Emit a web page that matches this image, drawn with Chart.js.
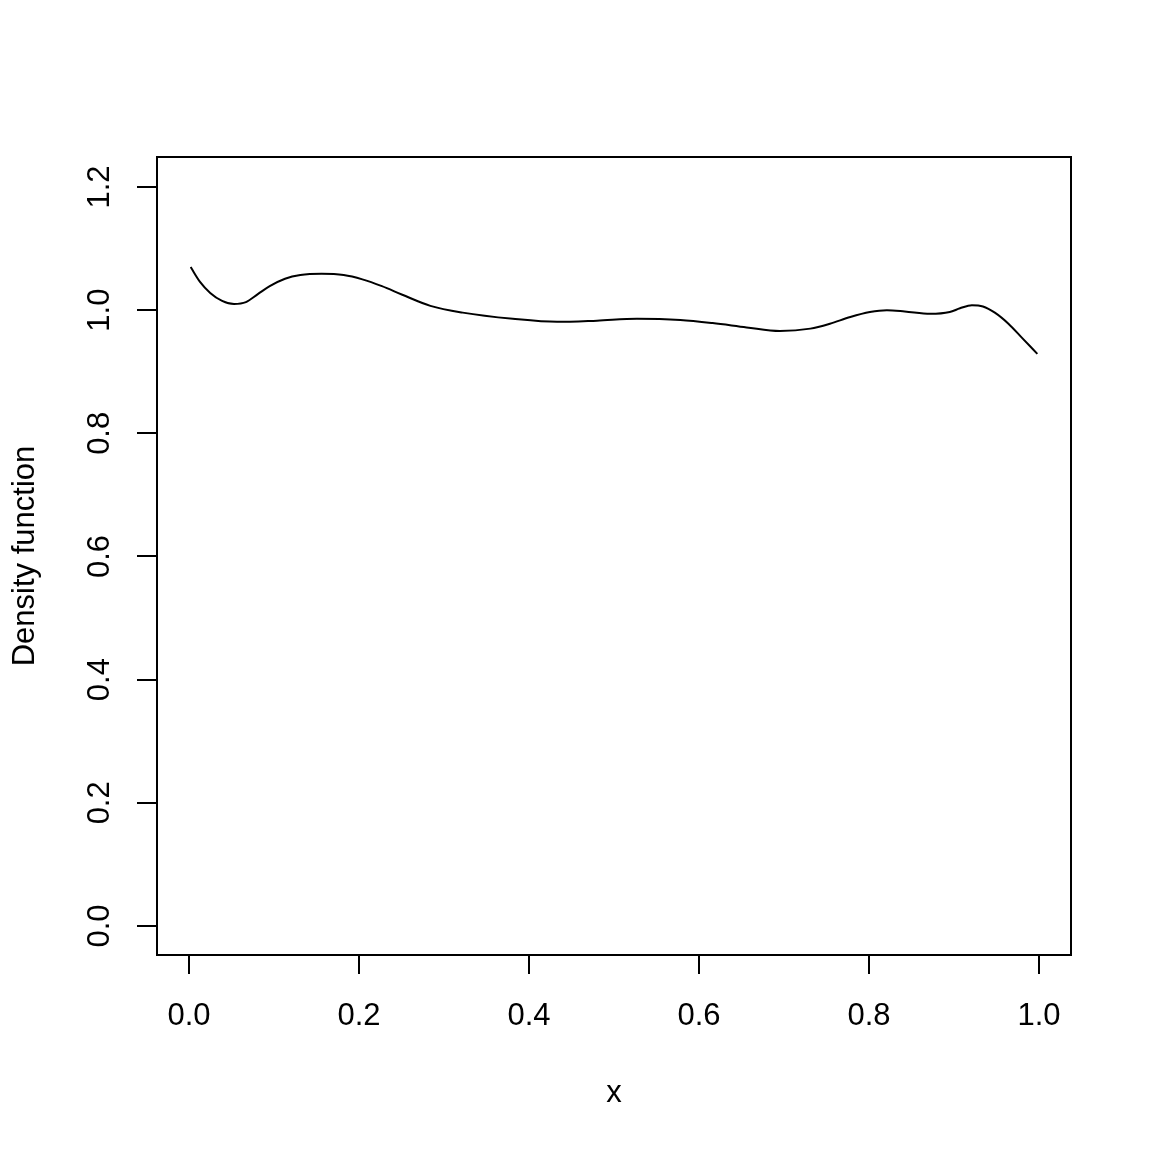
<!DOCTYPE html>
<html>
<head>
<meta charset="utf-8">
<script src="https://cdn.jsdelivr.net/npm/chart.js@4"></script>
<style>
html,body{margin:0;padding:0;background:#fff;}
#wrap{width:1152px;height:1152px;}
</style>
</head>
<body>
<div id="wrap"><canvas id="c" width="1152" height="1152"></canvas></div>
<script>
// Data
const xValues = [0.002,0.013,0.025,0.039,0.053,0.067,0.081,0.095,0.113,0.131,0.156,0.182,0.204,0.227,0.251,0.284,0.322,0.381,0.433,0.480,0.527,0.578,0.616,0.656,0.695,0.731,0.754,0.778,0.801,0.821,0.842,0.872,0.895,0.907,0.921,0.934,0.948,0.964,0.980,0.998];
const densityValues = [1.070,1.046,1.028,1.015,1.010,1.013,1.026,1.039,1.051,1.057,1.059,1.057,1.050,1.039,1.025,1.007,0.996,0.986,0.981,0.983,0.986,0.984,0.979,0.972,0.966,0.970,0.978,0.989,0.997,1.000,0.998,0.994,0.997,1.003,1.008,1.006,0.996,0.978,0.955,0.929];
const xTicks = [0, 0.2, 0.4, 0.6, 0.8, 1.0];
const xTickLabels = ["0.0","0.2","0.4","0.6","0.8","1.0"];
const yTicks = [0, 0.2, 0.4, 0.6, 0.8, 1.0, 1.2];
const yTickLabels = ["0.0","0.2","0.4","0.6","0.8","1.0","1.2"];
const xTitle = "x";
const yTitle = "Density function";

const FONT = "'Liberation Sans', Arial, Helvetica, sans-serif";
const FS = 31;

const boxPlugin = {
  id: 'box',
  afterDraw(chart) {
    const {ctx, chartArea: a} = chart;
    ctx.save();
    ctx.strokeStyle = '#000';
    ctx.lineWidth = 2;
    ctx.strokeRect(a.left, a.top, a.right - a.left, a.bottom - a.top);
    // rotated y tick labels
    const ys = chart.scales.y;
    ctx.fillStyle = '#000';
    ctx.font = FS + 'px ' + FONT;
    ctx.textAlign = 'center';
    ctx.textBaseline = 'middle';
    yTicks.forEach((v, i) => {
      const py = ys.getPixelForValue(v);
      ctx.save();
      ctx.translate(100, py);
      ctx.rotate(-Math.PI / 2);
      ctx.fillText(yTickLabels[i], 0, 0);
      ctx.restore();
    });
    ctx.restore();
  }
};

new Chart(document.getElementById('c'), {
  type: 'line',
  data: {
    datasets: [{
      data: xValues.map((x, i) => ({x: x, y: densityValues[i]})),
      borderColor: '#000',
      borderWidth: 2,
      pointRadius: 0,
      fill: false,
      cubicInterpolationMode: 'monotone'
    }]
  },
  options: {
    responsive: false,
    animation: false,
    devicePixelRatio: 1,
    layout: {padding: {top: 157, right: 81, left: 0, bottom: 0}},
    plugins: {legend: {display: false}, tooltip: {enabled: false}},
    scales: {
      x: {
        type: 'linear',
        min: -0.0376, max: 1.0376,
        afterFit: s => { s.height = 197; },
        afterBuildTicks: s => { s.ticks = xTicks.map(v => ({value: v})); },
        grid: {drawOnChartArea: false, drawTicks: true, tickLength: 19, color: '#000', lineWidth: 2},
        border: {display: true, color: '#000', width: 2},
        ticks: {
          color: '#000', font: {family: FONT, size: FS}, padding: 24,
          maxRotation: 0, minRotation: 0, autoSkip: false,
          callback: (v, i) => xTickLabels[i]
        },
        title: {display: true, text: xTitle, color: '#000', font: {family: FONT, size: FS}, padding: {top: 0, bottom: 40}}
      },
      y: {
        type: 'linear',
        min: -0.0471, max: 1.2487,
        afterFit: s => { s.width = 157; },
        afterBuildTicks: s => { s.ticks = yTicks.map(v => ({value: v})); },
        grid: {drawOnChartArea: false, drawTicks: true, tickLength: 20, color: '#000', lineWidth: 2},
        border: {display: true, color: '#000', width: 2},
        ticks: {display: false},
        title: {display: true, text: yTitle, color: '#000', font: {family: FONT, size: FS}, padding: {top: 6.5, bottom: 0}}
      }
    }
  },
  plugins: [boxPlugin]
});
</script>
</body>
</html>
